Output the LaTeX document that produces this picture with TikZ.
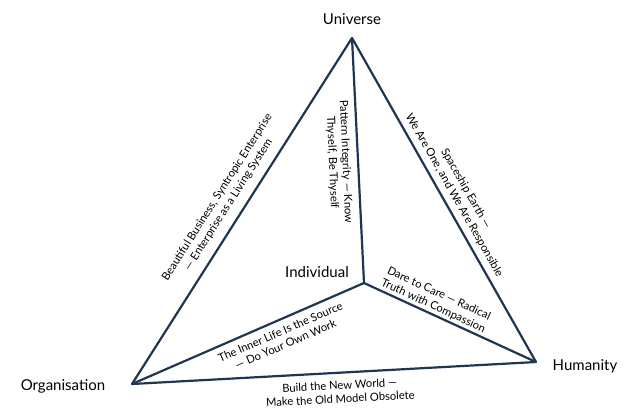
\documentclass[tikz,border=0pt]{standalone}
\usepackage{fontspec}
\setmainfont{Lato}
\definecolor{navy}{HTML}{1F3550}
\begin{document}
\begin{tikzpicture}[x=1pt,y=-1pt,
  edge/.style={draw=navy,line width=2.2pt,line join=round},
  vlab/.style={font=\fontsize{15}{17}\selectfont,text=black},
  elab/.style={font=\fontsize{11.2}{13.5}\selectfont,align=center,text=black,inner sep=0pt}]
\useasboundingbox (0,0) rectangle (637,413);
\coordinate (U) at (352,38);
\coordinate (O) at (132,384);
\coordinate (H) at (536,362);
\coordinate (I) at (364,283);
\draw[edge] (U) -- (H) -- (O) -- cycle;
\draw[edge] (U) -- (I) -- (H);
\draw[edge] (I) -- (O);
\node[vlab] (lu) at (352,19) {Universe};
\node[vlab] (lo) at (63,386) {Organisation};
\node[vlab] (lh) at (585,366) {Humanity};
\node[vlab] (li) at (317,272) {Individual};
\node[elab,rotate=57.5] (e1) at (223,201) {Beautiful Business, Syntropic Enterprise\\— Enterprise as a Living System};
\node[elab,rotate=-87.5] (e2) at (339,162) {Pattern Integrity — Know\\Thyself, Be Thyself};
\node[elab,rotate=-60.4] (e3) at (460,192) {Spaceship Earth —\\We Are One, and We Are Responsible};
\node[elab,rotate=-24.7] (e4) at (436,300) {Dare to Care — Radical\\Truth with Compassion};
\node[elab,rotate=23.5] (e5) at (283,338) {The Inner Life Is the Source\\— Do Your Own Work};
\node[elab,rotate=3.1] (e6) at (340,392) {Build the New World —\\Make the Old Model Obsolete};
\end{tikzpicture}
\end{document}
